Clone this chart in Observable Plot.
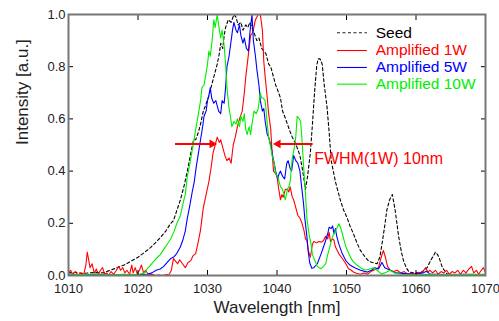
<!DOCTYPE html>
<html><head><meta charset="utf-8">
<script src="https://cdn.jsdelivr.net/npm/d3@7"></script>
<script src="https://cdn.jsdelivr.net/npm/@observablehq/plot@0.6"></script>
<style>
body{margin:0;background:#fff;}
#chart svg{overflow:visible;display:block;}
</style>
</head><body><div id="chart"></div>
<script>
// ---- data ----
const xTicks = [1010, 1020, 1030, 1040, 1050, 1060, 1070];
const yTicks = [0, 0.2, 0.4, 0.6, 0.8, 1.0];
const seriesNames = ["Seed", "Amplified 1W", "Amplified 5W", "Amplified 10W"];
const seriesColors = ["#000000", "#ff0000", "#0000ff", "#00ee00"];
const xLabel = "Wavelength [nm]";
const yLabel = "Intensity [a.u.]";
const fwhmLabel = "FWHM(1W) 10nm";
const fwhmLevel = 0.504;
const fwhmLeft = [1025.4, 1031.1];
const fwhmRight = [1045.2, 1039.7];

const seed = [[1010,0.01],[1011,0.012],[1012,0.008],[1013,0.01],[1014,0.012],[1015,0.01],[1016,0.02],[1017,0.03],[1018,0.04],[1018.4,0.046],[1019,0.055],[1020,0.07],[1021,0.09],[1021.8,0.107],[1022.5,0.125],[1023.2,0.145],[1024,0.17],[1024.7,0.2],[1025.1,0.21],[1025.6,0.25],[1026.1,0.29],[1026.6,0.34],[1027.1,0.4],[1027.6,0.47],[1028,0.52],[1028.3,0.52],[1028.7,0.55],[1029,0.58],[1029.4,0.63],[1029.7,0.65],[1030.1,0.68],[1030.5,0.72],[1030.9,0.76],[1031.2,0.79],[1031.4,0.81],[1031.7,0.85],[1031.9,0.89],[1032.2,0.87],[1032.4,0.92],[1032.6,0.95],[1033,0.98],[1033.4,0.97],[1033.8,1.0],[1034.1,0.99],[1034.4,0.96],[1034.8,0.97],[1035.1,0.94],[1035.5,0.96],[1035.8,0.95],[1036.1,0.97],[1036.4,0.95],[1036.7,0.93],[1037.1,0.9],[1037.4,0.91],[1037.8,0.87],[1038.1,0.86],[1038.4,0.85],[1038.8,0.81],[1039.1,0.8],[1039.5,0.76],[1039.8,0.73],[1040.1,0.71],[1040.5,0.68],[1040.8,0.63],[1041.1,0.61],[1041.5,0.58],[1041.9,0.55],[1042.2,0.53],[1042.6,0.51],[1042.9,0.49],[1043.3,0.46],[1043.7,0.4],[1044.1,0.33],[1044.4,0.38],[1044.8,0.47],[1045.1,0.58],[1045.4,0.7],[1045.7,0.8],[1045.9,0.83],[1046.2,0.83],[1046.5,0.81],[1046.8,0.73],[1047.2,0.645],[1047.5,0.55],[1047.8,0.44],[1048.1,0.4],[1048.4,0.36],[1048.8,0.32],[1049.1,0.29],[1049.6,0.25],[1050.1,0.22],[1050.5,0.19],[1051,0.16],[1051.5,0.125],[1052,0.096],[1052.7,0.07],[1053.2,0.055],[1053.7,0.05],[1054.4,0.045],[1054.8,0.07],[1055.1,0.12],[1055.5,0.19],[1055.8,0.25],[1056.2,0.29],[1056.6,0.31],[1057,0.25],[1057.3,0.19],[1057.5,0.15],[1057.9,0.09],[1058.2,0.057],[1058.6,0.03],[1059,0.013],[1059.8,0.01],[1060.6,0.01],[1061.1,0.018],[1061.6,0.03],[1062.1,0.057],[1062.5,0.075],[1062.8,0.09],[1063.1,0.08],[1063.3,0.07],[1063.8,0.03],[1064.5,0.005],[1065.5,0.004],[1067,0.004],[1068.5,0.004],[1070,0.004]];

const amp1W = [[1010,0.01],[1010.3,0.02],[1010.6,0.005],[1011,0.015],[1011.4,0],[1011.8,0.01],[1012.2,0.005],[1012.5,0.04],[1012.7,0.09],[1012.9,0.06],[1013.1,0.03],[1013.4,0.045],[1013.7,0.01],[1014,0.025],[1014.3,0.005],[1014.6,0.02],[1014.9,0.03],[1015.2,0.005],[1015.5,0.01],[1015.8,0],[1016.1,0.015],[1016.5,0.005],[1016.9,0.02],[1017.2,0.035],[1017.5,0.02],[1017.8,0.03],[1018.1,0.01],[1018.4,0.02],[1018.8,0.005],[1019.1,0.04],[1019.3,0.01],[1019.6,0.03],[1019.9,0.005],[1020.2,0.02],[1020.5,0.04],[1020.8,0.01],[1021.1,0.02],[1021.5,0.003],[1022,0.005],[1022.5,0],[1023,0.002],[1023.5,0],[1024,0.003],[1024.5,0.005],[1024.8,0.02],[1025.1,0.065],[1025.4,0.055],[1025.7,0.045],[1026,0.06],[1026.4,0.045],[1026.8,0.03],[1027.2,0.05],[1027.6,0.057],[1027.9,0.075],[1028.3,0.084],[1028.6,0.12],[1029,0.175],[1029.4,0.26],[1029.8,0.31],[1030.2,0.36],[1030.5,0.41],[1030.8,0.47],[1031.1,0.5],[1031.4,0.53],[1031.7,0.51],[1031.9,0.52],[1032.2,0.49],[1032.5,0.46],[1032.8,0.44],[1033.1,0.45],[1033.4,0.43],[1033.7,0.5],[1034,0.53],[1034.3,0.57],[1034.6,0.6],[1035,0.63],[1035.3,0.7],[1035.5,0.76],[1035.9,0.85],[1036.2,0.92],[1036.5,0.93],[1036.9,0.98],[1037.3,1.0],[1037.6,1.0],[1037.9,0.94],[1038.1,0.82],[1038.3,0.76],[1038.6,0.68],[1038.8,0.62],[1039.1,0.56],[1039.3,0.47],[1039.5,0.4],[1039.8,0.39],[1040,0.38],[1040.2,0.34],[1040.5,0.29],[1040.7,0.31],[1040.9,0.3],[1041.2,0.33],[1041.5,0.33],[1041.7,0.32],[1041.9,0.34],[1042.2,0.3],[1042.4,0.29],[1042.7,0.26],[1043,0.23],[1043.3,0.22],[1043.6,0.2],[1043.9,0.17],[1044.1,0.14],[1044.3,0.135],[1044.5,0.096],[1044.8,0.07],[1045.1,0.12],[1045.3,0.13],[1045.7,0.125],[1046,0.13],[1046.4,0.128],[1046.7,0.134],[1047,0.15],[1047.3,0.14],[1047.5,0.165],[1047.7,0.13],[1048,0.14],[1048.2,0.135],[1048.4,0.11],[1048.9,0.083],[1049.4,0.065],[1049.9,0.045],[1050.3,0.026],[1050.7,0.02],[1051,0.013],[1051.5,0.008],[1052,0.005],[1052.5,0.01],[1053,0.005],[1053.5,0.015],[1053.9,0.02],[1054.3,0.025],[1054.6,0.03],[1055,0.07],[1055.3,0.096],[1055.6,0.07],[1055.9,0.035],[1056.3,0.02],[1056.8,0.015],[1057.3,0.02],[1057.8,0.01],[1058.3,0.015],[1058.8,0.005],[1059.3,0.01],[1059.8,0.005],[1060.3,0.012],[1060.8,0.01],[1061.1,0.02],[1061.4,0.03],[1061.7,0.013],[1062,0.02],[1062.4,0.01],[1062.8,0.02],[1063.2,0.005],[1063.6,0.015],[1064,0.01],[1064.4,0.02],[1064.8,0.005],[1065.2,0.015],[1065.6,0.01],[1066,0.02],[1066.4,0.005],[1066.8,0.02],[1067.2,0.01],[1067.6,0.025],[1068,0.035],[1068.3,0.01],[1068.7,0.02],[1069,0.005],[1069.4,0.02],[1069.7,0.03],[1070,0.01]];

const amp5W = [[1010,0.005],[1012,0.003],[1014,0.005],[1016,0.003],[1018,0.004],[1020,0.003],[1021.3,0.005],[1022,0.01],[1022.6,0.02],[1023.2,0.025],[1023.7,0.035],[1024.2,0.05],[1024.7,0.065],[1025.2,0.072],[1025.6,0.085],[1026.1,0.11],[1026.5,0.14],[1026.8,0.17],[1027.1,0.22],[1027.4,0.26],[1027.8,0.32],[1028.1,0.36],[1028.4,0.42],[1028.7,0.47],[1029,0.52],[1029.3,0.57],[1029.5,0.61],[1029.8,0.63],[1030,0.67],[1030.2,0.69],[1030.4,0.72],[1030.6,0.68],[1030.9,0.66],[1031.2,0.67],[1031.4,0.65],[1031.6,0.63],[1031.9,0.62],[1032.1,0.67],[1032.4,0.66],[1032.6,0.72],[1032.8,0.8],[1033.1,0.84],[1033.3,0.88],[1033.6,0.94],[1033.8,0.97],[1034.1,0.94],[1034.3,0.93],[1034.6,0.96],[1034.8,0.92],[1035.1,0.89],[1035.3,0.91],[1035.6,0.87],[1035.9,0.86],[1036.1,0.93],[1036.4,1.0],[1036.6,0.9],[1036.9,0.84],[1037.1,0.79],[1037.4,0.73],[1037.6,0.67],[1037.9,0.63],[1038.1,0.64],[1038.3,0.59],[1038.6,0.54],[1038.8,0.53],[1039.1,0.5],[1039.3,0.47],[1039.6,0.43],[1039.8,0.4],[1040.1,0.37],[1040.3,0.39],[1040.5,0.4],[1040.8,0.38],[1041.1,0.37],[1041.4,0.43],[1041.6,0.44],[1041.9,0.41],[1042.1,0.4],[1042.4,0.46],[1042.7,0.44],[1043,0.43],[1043.3,0.4],[1043.5,0.35],[1043.8,0.28],[1044,0.22],[1044.3,0.15],[1044.5,0.09],[1044.7,0.05],[1045,0.028],[1045.3,0.03],[1045.8,0.045],[1046.3,0.08],[1046.7,0.11],[1047,0.134],[1047.3,0.16],[1047.5,0.185],[1047.8,0.18],[1048,0.19],[1048.2,0.16],[1048.4,0.18],[1048.6,0.15],[1048.9,0.12],[1049.4,0.083],[1049.9,0.057],[1050.3,0.045],[1050.6,0.038],[1051.2,0.03],[1052,0.02],[1053,0.013],[1053.6,0.02],[1054.1,0.03],[1054.6,0.025],[1055.1,0.05],[1055.5,0.03],[1056.3,0.02],[1057,0.01],[1058,0.008],[1059,0.006],[1060,0.006],[1061,0.01],[1061.5,0.016],[1062,0.006],[1063,0.005],[1065,0.004],[1067,0.005],[1069,0.004],[1070,0.005]];

const amp10W = [[1010,0.005],[1012,0.004],[1014,0.006],[1016,0.003],[1018,0.005],[1020,0.004],[1021,0.01],[1021.3,0.025],[1021.8,0.04],[1022.3,0.055],[1022.8,0.07],[1023.2,0.08],[1023.7,0.1],[1024.2,0.12],[1024.7,0.14],[1025.2,0.17],[1025.6,0.2],[1026.1,0.23],[1026.6,0.29],[1026.8,0.31],[1027.1,0.38],[1027.4,0.42],[1027.6,0.45],[1028,0.51],[1028.3,0.56],[1028.7,0.62],[1029,0.67],[1029.2,0.72],[1029.5,0.73],[1029.7,0.76],[1030,0.81],[1030.2,0.86],[1030.4,0.84],[1030.7,0.91],[1030.9,0.98],[1031.1,0.95],[1031.4,1.0],[1031.6,0.96],[1031.9,0.91],[1032.1,0.94],[1032.4,0.88],[1032.6,0.81],[1032.8,0.72],[1033.1,0.64],[1033.3,0.61],[1033.5,0.57],[1033.8,0.59],[1034.1,0.58],[1034.3,0.6],[1034.6,0.57],[1034.8,0.61],[1035.1,0.59],[1035.3,0.62],[1035.5,0.56],[1035.7,0.54],[1036,0.57],[1036.2,0.54],[1036.4,0.58],[1036.7,0.63],[1037,0.62],[1037.3,0.64],[1037.6,0.7],[1037.8,0.68],[1038,0.68],[1038.3,0.67],[1038.6,0.58],[1038.8,0.53],[1039.1,0.49],[1039.3,0.46],[1039.6,0.43],[1039.8,0.39],[1040.1,0.38],[1040.3,0.36],[1040.5,0.34],[1040.8,0.33],[1041,0.31],[1041.2,0.29],[1041.5,0.33],[1041.7,0.34],[1041.9,0.36],[1042.2,0.45],[1042.5,0.49],[1042.7,0.53],[1042.9,0.61],[1043.2,0.6],[1043.4,0.59],[1043.6,0.52],[1043.8,0.43],[1044.1,0.31],[1044.3,0.22],[1044.6,0.16],[1044.9,0.12],[1045.1,0.08],[1045.4,0.06],[1045.8,0.035],[1046.3,0.026],[1046.7,0.035],[1047,0.045],[1047.3,0.08],[1047.7,0.12],[1048,0.15],[1048.4,0.17],[1048.9,0.198],[1049.2,0.18],[1049.4,0.16],[1049.7,0.13],[1049.9,0.11],[1050.4,0.08],[1050.9,0.055],[1051.5,0.04],[1052,0.03],[1052.5,0.022],[1053,0.022],[1053.5,0.026],[1053.9,0.03],[1054.4,0.02],[1055,0.006],[1055.5,0.01],[1056.3,0.02],[1057,0.008],[1058,0.005],[1060,0.004],[1062,0.005],[1064,0.004],[1066,0.004],[1068,0.005],[1070,0.004]];

// legend placement (data coordinates inside frame)
const legendX = [1048.7, 1053.0, 1054.2];
const legendY = [0.93, 0.862, 0.797, 0.733];

// ---- build ----
const seriesData = [seed, amp1W, amp5W, amp10W];
const rows = seriesData.flatMap((s, i) => s.map(([x, y]) => ({x, y, k: seriesNames[i]})));
const legendRows = seriesNames.map((name, i) => ({name, color: seriesColors[i], y: legendY[i]}));
const arrows = [
  {x1: fwhmLeft[0], x2: fwhmLeft[1], dir: 90},
  {x1: fwhmRight[0], x2: fwhmRight[1], dir: -90}
];
const font = "'Liberation Sans', Arial, Helvetica, sans-serif";
const dash = "3,2.5";

const lineMarks = seriesNames.map((name, i) => Plot.line(rows.filter(d => d.k === name), Object.assign({
  x: "x", y: "y", stroke: seriesColors[i], strokeWidth: 1.1
}, i === 0 ? {strokeDasharray: dash} : {})));

const chart = Plot.plot({
  width: 499, height: 321,
  marginLeft: 68, marginRight: 14, marginTop: 14, marginBottom: 46,
  style: {fontFamily: font, fontSize: "13px", color: "#222", background: "#fff"},
  x: {domain: [1010, 1070], ticks: xTicks, tickFormat: d3.format("d")},
  y: {domain: [0, 1], ticks: yTicks, tickFormat: d3.format(".1f")},
  marks: [
    lineMarks[0],
    ...lineMarks.slice(1),
    // axes: labels
    Plot.axisX({ticks: xTicks, tickSize: 0, tickPadding: 8, label: null, tickFormat: d3.format("d"), fontSize: 13}),
    Plot.axisY({ticks: yTicks, tickSize: 0, tickPadding: 3, label: null, tickFormat: d3.format(".1f"), fontSize: 13}),
    // inward ticks on all four sides
    Plot.axisX({ticks: xTicks, tickSize: -5, text: null, label: null, stroke: "#000"}),
    Plot.axisX({anchor: "top", ticks: xTicks, tickSize: -5, text: null, label: null, stroke: "#000"}),
    Plot.axisY({ticks: yTicks, tickSize: -5, text: null, label: null, stroke: "#000"}),
    Plot.axisY({anchor: "right", ticks: yTicks, tickSize: -5, text: null, label: null, stroke: "#000"}),
    Plot.frame({stroke: "#777", strokeWidth: 2}),
    // axis titles
    Plot.text([xLabel], {frameAnchor: "bottom", dy: 32, text: d => d, fontSize: 17, fill: "#222", lineAnchor: "middle"}),
    Plot.text([yLabel], {frameAnchor: "left", dx: -46, rotate: -90, text: d => d, fontSize: 17, fill: "#222", lineAnchor: "middle"}),
    // FWHM annotation
    Plot.ruleY(arrows, {x1: "x1", x2: d => d.x2 - (d.dir > 0 ? 0.6 : -0.6), y: fwhmLevel, stroke: "#ff0000", strokeWidth: 2}),
    Plot.dot(arrows, {x: d => d.x2 - (d.dir > 0 ? 0.45 : -0.45), y: fwhmLevel, symbol: "triangle2", r: 4.2, fill: "#ff0000", stroke: "none", rotate: "dir"}),
    Plot.text([fwhmLabel], {x: fwhmRight[0], y: fwhmLevel, dy: 15, dx: 1, text: d => d, textAnchor: "start", fontSize: 16, fill: "#ff0000", lineAnchor: "middle"}),
    // legend
    Plot.ruleY(legendRows.slice(0, 1), {x1: legendX[0], x2: legendX[1], y: "y", stroke: "#222", strokeWidth: 1.1, strokeDasharray: dash}),
    Plot.ruleY(legendRows.slice(1), {x1: legendX[0], x2: legendX[1], y: "y", stroke: "color", strokeWidth: 1.1}),
    Plot.text(legendRows, {x: legendX[2], y: "y", text: "name", fill: "color", textAnchor: "start", fontSize: 15.5, lineAnchor: "middle"})
  ]
});
document.getElementById("chart").appendChild(chart);
</script>
</body></html>
